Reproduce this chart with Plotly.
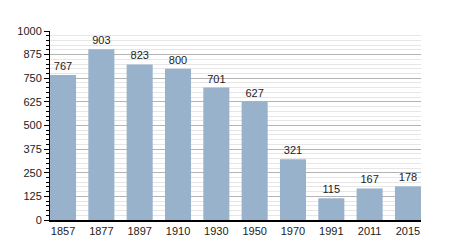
import plotly.graph_objects as go

years = ["1857", "1877", "1897", "1910", "1930", "1950", "1970", "1991", "2011", "2015"]
population = [767, 903, 823, 800, 701, 627, 321, 115, 167, 178]

fig = go.Figure(go.Bar(
    x=years, y=population,
    marker=dict(color="#98b2cc", line=dict(width=0)),
    text=[str(v) for v in population],
    textposition="outside",
    textfont=dict(size=11, color="#222"),
    cliponaxis=False,
))

fig.update_layout(
    width=450, height=250,
    margin=dict(l=50, r=29, t=31, b=30),
    plot_bgcolor="white", paper_bgcolor="white",
    font=dict(family="Liberation Sans, Arial, sans-serif", size=11, color="#222"),
    bargap=0.32,
    showlegend=False,
)
fig.update_xaxes(
    type="category", range=[-0.34, 9.34],
    showline=True, linecolor="black", linewidth=1.5,
    ticks="", showgrid=False, tickfont=dict(size=11),
)
fig.update_yaxes(
    range=[0, 1000], dtick=125, tick0=0,
    showline=True, linecolor="black", linewidth=1,
    ticks="outside", ticklen=5, tickcolor="black",
    showgrid=True, gridcolor="#b4b4b4", gridwidth=1,
    zeroline=False,
    minor=dict(dtick=25, showgrid=True, gridcolor="#e6e6e6", ticks="outside", ticklen=3, tickcolor="black"),
    tickfont=dict(size=11),
)

fig.write_html("out.html")
